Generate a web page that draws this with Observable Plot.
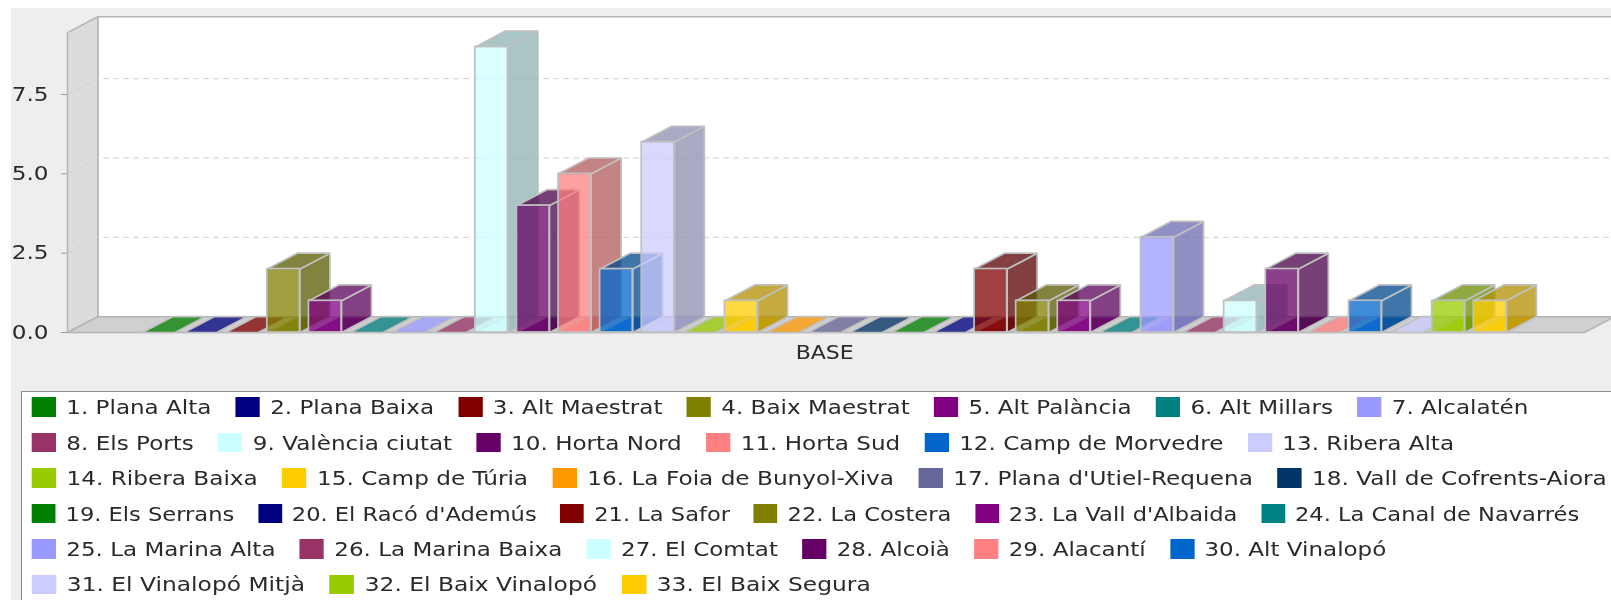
<!DOCTYPE html>
<html>
<head>
<meta charset="utf-8">
<script src="https://cdn.jsdelivr.net/npm/d3@7"></script>
<script src="https://cdn.jsdelivr.net/npm/@observablehq/plot@0.6"></script>
<style>
  html, body { margin: 0; padding: 0; background: #fff; width: 1611px; height: 600px; overflow: hidden; font-family: "DejaVu Sans", sans-serif; }
  #bg { position: absolute; left: 11px; top: 8px; right: 0; bottom: 0; background: #eeeeee; }
  #chart { position: absolute; left: 0; top: 0; }
  #chart svg { display: block; background: transparent; filter: blur(.45px); }
  #legend { position: absolute; left: 21px; top: 391px; width: 1640px; height: 260px; background: #fff; border: 1px solid #8e8e8e; box-sizing: border-box; overflow: hidden; }
  #legendInner { transform: scaleX(1.215); transform-origin: 0 0; filter: blur(.35px); color: #2a2a2a; font-size: 19px; margin-top: -2.5px; }
  .row { display: flex; height: 35.45px; align-items: center; white-space: nowrap; padding-left: 8px; transform-origin: 8px 0; }
  .item { display: inline-flex; align-items: center; margin-right: 20px; }
  .sw { width: 20px; height: 19.5px; margin-right: 8.5px; flex: none; }
</style>
</head>
<body>
<div id="bg"></div>
<div id="chart"></div>
<div id="legend"><div id="legendInner"></div></div>
<script>
const names = ["1. Plana Alta","2. Plana Baixa","3. Alt Maestrat","4. Baix Maestrat","5. Alt Palància","6. Alt Millars","7. Alcalatén","8. Els Ports","9. València ciutat","10. Horta Nord","11. Horta Sud","12. Camp de Morvedre","13. Ribera Alta","14. Ribera Baixa","15. Camp de Túria","16. La Foia de Bunyol-Xiva","17. Plana d'Utiel-Requena","18. Vall de Cofrents-Aiora","19. Els Serrans","20. El Racó d'Ademús","21. La Safor","22. La Costera","23. La Vall d'Albaida","24. La Canal de Navarrés","25. La Marina Alta","26. La Marina Baixa","27. El Comtat","28. Alcoià","29. Alacantí","30. Alt Vinalopó","31. El Vinalopó Mitjà","32. El Baix Vinalopó","33. El Baix Segura"];
const values = [0,0,0,2,1,0,0,0,9,4,5,2,6,0,1,0,0,0,0,0,2,1,1,0,3,0,1,2,0,1,0,1,1];
const palette = ["#008000","#000080","#800000","#808000","#800080","#008080","#9999ff","#993366","#ccffff","#660066","#ff8080","#0066cc","#ccccff","#99cc00","#ffcc00","#ff9900","#666699","#003366"];
const darkPalette = ["#005900","#000059","#590000","#595900","#590059","#005959","#6b6bb2","#6b2347","#8eb2b2","#470047","#b25959","#00478e","#8e8eb2","#6b8e00","#b28e00","#b26b00","#474769","#002347"];
const legendRowCounts = [7,6,5,6,6,3];
const legendRowStretch = [0.998,1,1.004,0.977,0.997,1.012];
const yTicks = [0,2.5,5,7.5];
const categoryLabel = "BASE";

const barWidth = 0.784, depthX = 0.72, depthY = 0.5;
const yMax = 9.45, xLeft = -1.803, xRight = 35.31, floorRight = 34.66;
const colorOf = i => palette[i % palette.length];
const darkOf = i => darkPalette[i % darkPalette.length];

function poly(id, fill, pts) {
  return [...pts, pts[0]].map(([x, y]) => ({id, fill, x, y}));
}
const polyMark = (rows, o = {}) => Plot.line(rows, {x: "x", y: "y", z: "id", fill: "fill", stroke: o.stroke ?? "#c0c0c0", strokeWidth: o.strokeWidth ?? 1.7, fillOpacity: o.fillOpacity ?? 1, curve: "linear", strokeLinejoin: "miter"});

const room = [
  ...poly("back", "#ffffff", [[xLeft+depthX+.01,depthY],[xRight+1,depthY],[xRight+1,yMax+depthY],[xLeft+depthX+.01,yMax+depthY]]),
  ...poly("left", "#dcdcdc", [[xLeft,0],[xLeft+depthX+.01,depthY],[xLeft+depthX+.01,yMax+depthY],[xLeft,yMax]]),
  ...poly("floor", "#d0d0d0", [[xLeft,0],[floorRight,0],[floorRight+depthX+.01,depthY],[xLeft+depthX+.01,depthY]])
];
const grid = yTicks.slice(1).flatMap(t => [
  {t, x: xLeft, y: t},
  {t, x: xLeft + depthX + .01, y: t + depthY},
  {t, x: xRight + 1, y: t + depthY}
]);

const barMarks = values.flatMap((v, i) => {
  const x0 = i, x1 = i + barWidth;
  const rows = [
    ...poly(`b${i}`, colorOf(i), [[x0,0],[x1,0],[x1+depthX,depthY],[x0+depthX,depthY]])
  ];
  const marks = [polyMark(rows, {fillOpacity: .75})];
  if (v > 0) {
    const faces = [
      ...poly(`s${i}`, darkOf(i), [[x1,0],[x1+depthX,depthY],[x1+depthX,v+depthY],[x1,v]]),
      ...poly(`t${i}`, darkOf(i), [[x0,v],[x1,v],[x1+depthX,v+depthY],[x0+depthX,v+depthY]])
    ];
    marks.push(polyMark(faces, {fillOpacity: .75}));
    marks.push(Plot.rectY([{i, v}], {x1: d => d.i, x2: d => d.i + barWidth, y1: 0, y2: "v", fill: colorOf(i), fillOpacity: .75, stroke: "#c0c0c0", strokeWidth: 1.7}));
  }
  return marks;
});

const plot = Plot.plot({
  width: 1611, height: 391,
  marginLeft: 67, marginRight: 0, marginTop: 0, marginBottom: 59,
  style: {background: "transparent", fontFamily: "'DejaVu Sans', sans-serif", fontSize: "19px", color: "#2a2a2a"},
  x: {domain: [xLeft, xRight], axis: null},
  y: {domain: [0, 332 / 31.73], axis: null},
  marks: [
    polyMark(room, {stroke: "#b4b4b4", strokeWidth: 1.5}),
    Plot.line(grid, {x: "x", y: "y", z: "t", stroke: "#d0d0d0", strokeWidth: 1, strokeDasharray: "5,5"}),
    ...barMarks,
    Plot.axisY(yTicks, {anchor: "left", tickFormat: d => d.toFixed(1), tickSize: 6, tickPadding: 13, stroke: "#9a9a9a", fontSize: 19, label: null}),
    Plot.axisX([(xLeft + floorRight) / 2 - 0.03], {anchor: "bottom", tickFormat: () => categoryLabel, tickSize: 0, tickPadding: 13, fontSize: 19, label: null})
  ]
});
plot.querySelectorAll('[aria-label="y-axis tick label"] text').forEach(t => {
  t.setAttribute("transform", (t.getAttribute("transform") || "") + " scale(1.22,1)");
});
plot.querySelectorAll('[aria-label="x-axis tick label"] text').forEach(t => {
  t.setAttribute("transform", (t.getAttribute("transform") || "") + " scale(1.16,1)");
});
document.getElementById("chart").append(plot);

const inner = document.getElementById("legendInner");
let k = 0;
legendRowCounts.forEach((n, r) => {
  const row = document.createElement("div");
  row.className = "row";
  row.style.transform = `scaleX(${legendRowStretch[r]})`;
  for (let j = 0; j < n; j++, k++) {
    const item = document.createElement("span");
    item.className = "item";
    const sw = document.createElement("span");
    sw.className = "sw";
    sw.style.background = colorOf(k);
    item.append(sw, document.createTextNode(names[k]));
    row.append(item);
  }
  inner.append(row);
});
</script>
</body>
</html>
